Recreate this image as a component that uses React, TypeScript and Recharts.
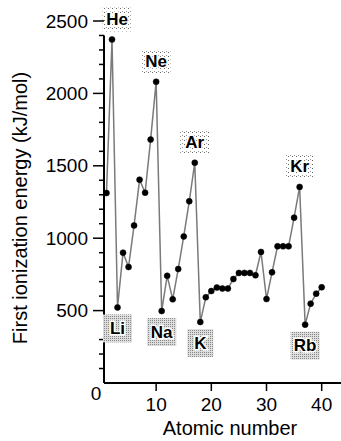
import { LineChart, Line, XAxis, YAxis, ReferenceLine, LabelList, Label } from 'recharts'

// atomic number along x, first ionization energy (kJ/mol)
const atomicNumbers = [
  1, 2, 3, 4, 5, 6, 7, 8, 9, 10, 11, 12, 13, 14, 15, 16, 17, 18, 19, 20,
  21, 22, 23, 24, 25, 26, 27, 28, 29, 30, 31, 32, 33, 34, 35, 36, 37, 38, 39, 40,
]
const ionizationEnergies = [
  1312, 2372, 522, 900, 801, 1088, 1404, 1314, 1681, 2080,
  497, 740, 578, 787, 1012, 1255, 1521, 421, 592, 635,
  659, 652, 652, 718, 760, 760, 760, 744, 905, 580,
  764, 944, 944, 944, 1142, 1354, 403, 548, 617, 661,
]

// element tags
const tagNumbers = [2, 10, 17, 36, 3, 11, 18, 37]
const tagSymbols = ['He', 'Ne', 'Ar', 'Kr', 'Li', 'Na', 'K', 'Rb']
const tagAbove = [true, true, true, true, false, false, false, false]

const xTicks = [10, 20, 30, 40]
const yTicks = [0, 100, 200, 300, 500, 600, 700, 800, 900, 1000, 1100, 1200, 1300, 1400, 1500,
  1600, 1700, 1800, 1900, 2000, 2100, 2200, 2300, 2400, 2500]

const FONT = '"Liberation Sans", Arial, Helvetica, sans-serif'

const data = atomicNumbers.map((z, i) => ({ z, energy: ionizationEnergies[i] }))

function YTick({ x, y, payload }: any) {
  const v = payload.value
  if (v === 0) {
    return <text x={96} y={y + 10} textAnchor="middle" dominantBaseline="central" fontSize={19} fill="#000">0</text>
  }
  const major = v % 500 === 0
  return (
    <g>
      <line x1={x - (major ? 11 : 5)} x2={x} y1={y} y2={y} stroke="#000" strokeWidth={1.5} />
      {major && (
        <text x={x - 16} y={y} textAnchor="end" dominantBaseline="central" fontSize={19} fill="#000">{v}</text>
      )}
    </g>
  )
}

function XTick({ x, y, payload }: any) {
  return (
    <g>
      <line x1={x} x2={x} y1={y} y2={y + 8} stroke="#000" strokeWidth={1.5} />
      <text x={x} y={y + 21} textAnchor="middle" dominantBaseline="central" fontSize={19} fill="#000">{payload.value}</text>
    </g>
  )
}

function ElementTag(props: any) {
  const { x, y, value } = props
  const k = tagNumbers.indexOf(Number(value))
  if (k < 0) return null
  const above = tagAbove[k]
  const sym = tagSymbols[k]
  const w = sym.length > 1 ? 29 : 26
  const h = above ? 24 : 28
  const cx = x + (sym === 'He' ? 5 : 0)
  const cy = above ? y - 20 : y + 21
  return (
    <g>
      <rect x={cx - w / 2} y={cy - h / 2} width={w} height={h} fill={above ? 'url(#tagSparse)' : 'url(#tagDense)'} />
      <text
        x={cx}
        y={cy}
        textAnchor="middle"
        dominantBaseline="central"
        fontWeight="bold"
        fontSize={17}
        fill="#000"
        stroke="#fff"
        strokeWidth={3}
        paintOrder="stroke"
      >
        {sym}
      </text>
    </g>
  )
}

export default function App() {
  return (
    <div style={{ width: 341, height: 441, background: '#fff', fontFamily: FONT }}>
      <style>{'body{margin:0}'}</style>
      <LineChart width={341} height={441} data={data} margin={{ top: 21, right: 0, bottom: 0, left: 0 }}>
        <defs>
          <pattern id="tagSparse" width="4" height="4" patternUnits="userSpaceOnUse">
            <rect x="0" y="0" width="1" height="1" fill="#666" />
            <rect x="2" y="3" width="1" height="1" fill="#999" />
          </pattern>
          <pattern id="tagDense" width="2" height="2" patternUnits="userSpaceOnUse">
            <rect width="2" height="2" fill="#ddd" />
            <rect x="0" y="0" width="1" height="1" fill="#888" />
          </pattern>
        </defs>
        <XAxis
          dataKey="z"
          type="number"
          domain={[0.55, 43.5]}
          ticks={xTicks}
          allowDataOverflow
          height={58}
          interval={0}
          tickSize={0}
          tickMargin={0}
          tickLine={false}
          axisLine={{ stroke: '#000', strokeWidth: 2 }}
          tick={<XTick />}
        >
          <Label
            content={() => (
              <text x={230} y={428} textAnchor="middle" dominantBaseline="central" fontSize={20} fill="#000">
                Atomic number
              </text>
            )}
          />
        </XAxis>
        <YAxis
          type="number"
          domain={[0, 2500]}
          ticks={yTicks}
          width={104}
          interval={0}
          tickSize={0}
          tickMargin={0}
          tickLine={false}
          axisLine={false}
          tick={<YTick />}
        >
          <Label
            content={() => (
              <text
                x={20}
                y={208}
                transform="rotate(-90, 20, 208)"
                textAnchor="middle"
                dominantBaseline="central"
                fontSize={20}
                fill="#000"
              >
                First ionization energy (kJ/mol)
              </text>
            )}
          />
        </YAxis>
        <ReferenceLine
          segment={[{ x: 0.55, y: 0 }, { x: 0.55, y: 2400 }]}
          stroke="#000"
          strokeWidth={2}
        />
        <Line
          dataKey="energy"
          type="linear"
          stroke="#7a7a7a"
          strokeWidth={1.5}
          dot={{ r: 3, fill: '#000', stroke: '#000', strokeWidth: 0.5 }}
          isAnimationActive={false}
        >
          <LabelList dataKey="z" content={<ElementTag />} />
        </Line>
      </LineChart>
    </div>
  )
}
